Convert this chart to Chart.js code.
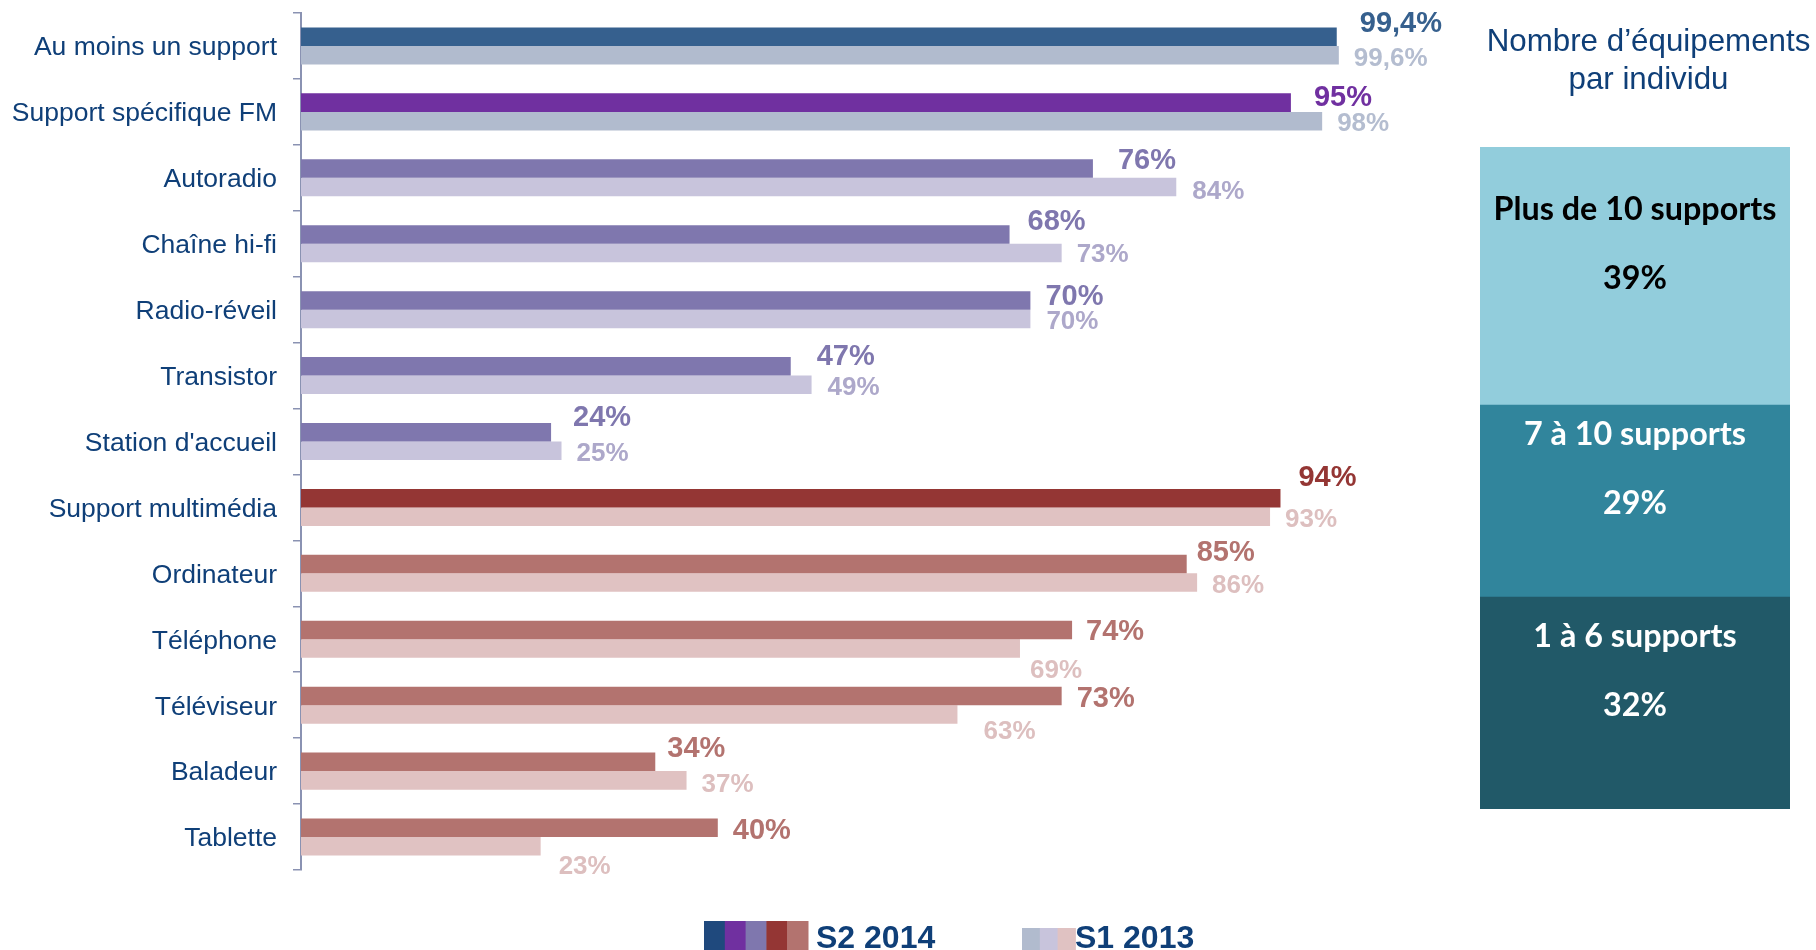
<!DOCTYPE html>
<html>
<head>
<meta charset="utf-8">
<script src="https://cdn.jsdelivr.net/npm/chart.js@4.4.1/dist/chart.umd.min.js"></script>
<style>
  html, body { margin:0; padding:0; background:#ffffff; width:1816px; height:950px; overflow:hidden; }
  #main { position:absolute; left:0; top:0; }
  #side { position:absolute; left:1460px; top:0; }
</style>
</head>
<body>
<canvas id="main" width="1460" height="950"></canvas>
<canvas id="side" width="356" height="950"></canvas>
<script>
// ---------------- DATA ----------------
const categories = [
  'Au moins un support', 'Support spécifique FM', 'Autoradio', 'Chaîne hi-fi',
  'Radio-réveil', 'Transistor', "Station d'accueil", 'Support multimédia',
  'Ordinateur', 'Téléphone', 'Téléviseur', 'Baladeur', 'Tablette'
];
const seriesNames = ['S2 2014', 'S1 2013'];
const valuesS2_2014 = [99.4, 95, 76, 68, 70, 47, 24, 94, 85, 74, 73, 34, 40];
const valuesS1_2013 = [99.6, 98, 84, 73, 70, 49, 25, 93, 86, 69, 63, 37, 23];

const panelTitle = ['Nombre d\u2019équipements', 'par individu'];
const panelCategories = ['1 à 6 supports', '7 à 10 supports', 'Plus de 10 supports'];
const panelValues = [32, 29, 39];

// ---------------- STYLE ----------------
const NAVY = '#0F3F78';
const C_BLUE = '#36608E', C_PURPLE = '#7030A0', C_LAV = '#7F77AE', C_RED = '#943634', C_ROSE = '#B3736F';
const L_BLUE = '#B1BBCE', L_LAV = '#C8C4DC', L_ROSE = '#E0C2C2';
const S2_COLORS = [C_BLUE, C_PURPLE, C_LAV, C_LAV, C_LAV, C_LAV, C_LAV, C_RED, C_ROSE, C_ROSE, C_ROSE, C_ROSE, C_ROSE];
const S1_COLORS = [L_BLUE, L_BLUE, L_LAV, L_LAV, L_LAV, L_LAV, L_LAV, L_ROSE, L_ROSE, L_ROSE, L_ROSE, L_ROSE, L_ROSE];
const S1_LABEL_COLORS = ['#B4BDD0', '#B4BDD0', '#ADA8CA', '#ADA8CA', '#ADA8CA', '#ADA8CA', '#ADA8CA',
                         '#DDBFBF', '#DDBFBF', '#DDBFBF', '#DDBFBF', '#DDBFBF', '#DDBFBF'];
// label nudges (dx from bar end, dy from bar centre), pixels
const S2_LABEL_DX = [23, 23, 25, 18, 15, 26, 22, 18, 10, 14, 15, 12, 15];
const S2_LABEL_DY = [-15, -7, -10, -15, -6, -12, -17, -23, -13, 0, 1, -15, 1];
const S1_LABEL_DX = [15, 15, 16, 15, 16, 16, 15, 15, 15, 10, 26, 15, 18];
const S1_LABEL_DY = [1, 1, 3, 0, 1, 1, 1, 1, 1, 20, 15, 2, 18];
const LEGEND_S2 = ['#1F497D', C_PURPLE, C_LAV, C_RED, C_ROSE];
const LEGEND_S1 = [L_BLUE, L_LAV, L_ROSE];
const PANEL_COLORS = ['#215968', '#31859C', '#92CDDC'];
const PANEL_TEXT = ['#FFFFFF', '#FFFFFF', '#000000'];

const fmt = v => String(v).replace('.', ',') + '%';

// ---------------- MAIN CHART ----------------
const valueLabels = {
  id: 'valueLabels',
  afterDatasetsDraw(chart) {
    const ctx = chart.ctx;
    ctx.save();
    ctx.textAlign = 'left';
    ctx.textBaseline = 'alphabetic';
    chart.data.datasets.forEach((ds, di) => {
      const meta = chart.getDatasetMeta(di);
      const size = di === 0 ? 29 : 26;
      ctx.font = 'bold ' + size + 'px "Liberation Sans", Arial, sans-serif';
      meta.data.forEach((bar, i) => {
        const dx = di === 0 ? S2_LABEL_DX[i] : S1_LABEL_DX[i];
        const dy = di === 0 ? S2_LABEL_DY[i] : S1_LABEL_DY[i];
        ctx.fillStyle = di === 0 ? S2_COLORS[i] : S1_LABEL_COLORS[i];
        ctx.fillText(fmt(ds.data[i]), bar.x + dx, bar.y + dy + size * 0.358);
      });
    });
    ctx.restore();
  }
};

const legendPlugin = {
  id: 'legendPlugin',
  afterDraw(chart) {
    const ctx = chart.ctx;
    ctx.save();
    let x = 704;
    const w2 = 20.8;
    LEGEND_S2.forEach(c => { ctx.fillStyle = c; ctx.fillRect(x, 921, w2 + 0.5, 29); x += w2; });
    ctx.font = 'bold 32px "Liberation Sans", Arial, sans-serif';
    ctx.fillStyle = NAVY;
    ctx.textBaseline = 'alphabetic';
    ctx.fillText(seriesNames[0], 816, 948);
    x = 1022;
    const w1 = 17.8;
    LEGEND_S1.forEach(c => { ctx.fillStyle = c; ctx.fillRect(x, 928, w1 + 0.5, 22); x += w1; });
    ctx.fillStyle = NAVY;
    ctx.fillText(seriesNames[1], 1075, 948);
    ctx.restore();
  }
};

new Chart(document.getElementById('main'), {
  type: 'bar',
  data: {
    labels: categories,
    datasets: [
      { label: seriesNames[0], data: valuesS2_2014, backgroundColor: S2_COLORS,
        categoryPercentage: 0.562, barPercentage: 1 },
      { label: seriesNames[1], data: valuesS1_2013, backgroundColor: S1_COLORS,
        categoryPercentage: 0.562, barPercentage: 1 }
    ]
  },
  options: {
    indexAxis: 'y',
    responsive: false,
    animation: false,
    layout: { padding: { left: 0, right: 117, top: 13, bottom: 80 } },
    plugins: { legend: { display: false }, tooltip: { enabled: false } },
    scales: {
      x: { display: false, min: 0, max: 100 },
      y: {
        grid: { display: true, drawOnChartArea: false, drawTicks: true, tickLength: 8,
                color: '#8A92B2', lineWidth: 1.5, offset: true },
        border: { display: true, color: '#8A92B2', width: 2 },
        ticks: { color: NAVY, font: { family: '"Liberation Sans", Arial, sans-serif', size: 26.5 },
                 padding: 16, labelOffset: 2 },
        afterFit(scale) { scale.width = 301; scale.paddingTop = 0; scale.paddingBottom = 0; }
      }
    }
  },
  plugins: [valueLabels, legendPlugin]
});

// ---------------- SIDE PANEL CHART ----------------
const panelLabels = {
  id: 'panelLabels',
  afterDatasetsDraw(chart) {
    const ctx = chart.ctx;
    ctx.save();
    ctx.textAlign = 'center';
    ctx.textBaseline = 'alphabetic';
    const fs = 32.3;
    ctx.font = 'bold ' + fs + 'px Lato, "Open Sans", sans-serif';
    chart.data.datasets.forEach((ds, di) => {
      const bar = chart.getDatasetMeta(di).data[0];
      const cx = bar.x;
      const cy = (bar.y + bar.base) / 2;
      ctx.fillStyle = PANEL_TEXT[di];
      ctx.fillText(ds.label, cx, cy - 68 + fs * 0.358);
      ctx.fillText(ds.data[0] + '%', cx, cy + 1 + fs * 0.358);
    });
    ctx.fillStyle = NAVY;
    ctx.font = '31.3px "Liberation Sans", Arial, sans-serif';
    ctx.fillText(panelTitle[0], 188.5, 51);
    ctx.fillText(panelTitle[1], 188.5, 88.5);
    ctx.restore();
  }
};

new Chart(document.getElementById('side'), {
  type: 'bar',
  data: {
    labels: [''],
    datasets: panelCategories.map((c, i) => ({
      label: c, data: [panelValues[i]], backgroundColor: PANEL_COLORS[i],
      barPercentage: 1, categoryPercentage: 1
    }))
  },
  options: {
    responsive: false,
    animation: false,
    layout: { padding: { left: 20, right: 26, top: 147, bottom: 141 } },
    plugins: { legend: { display: false }, tooltip: { enabled: false } },
    scales: {
      x: { display: false, stacked: true },
      y: { display: false, stacked: true, min: 0, max: 100 }
    }
  },
  plugins: [panelLabels]
});
</script>
</body>
</html>
